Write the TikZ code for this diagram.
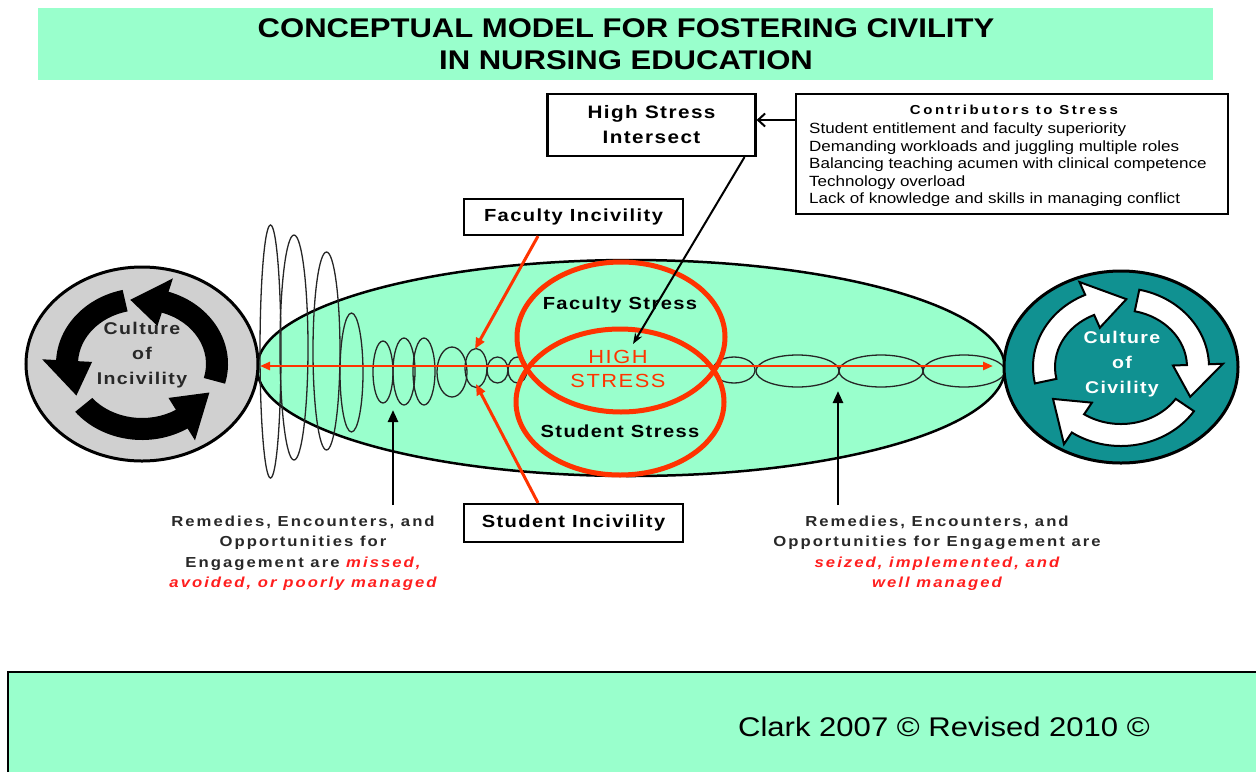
\documentclass[tikz,border=0pt]{standalone}
\usepackage{fontspec}
\setmainfont[FakeStretch=1.15]{Liberation Sans}
\newfontfamily\trk[FakeStretch=1.15,LetterSpace=8]{Liberation Sans}
\newfontfamily\trkw[FakeStretch=1.15,LetterSpace=14]{Liberation Sans}
\newfontfamily\trkh[FakeStretch=1.15,LetterSpace=20]{Liberation Sans}
\usetikzlibrary{arrows.meta,calc}

\definecolor{mint}{RGB}{153,255,204}
\definecolor{hot}{RGB}{255,51,0}
\definecolor{tealring}{RGB}{16,145,145}
\definecolor{ink}{RGB}{40,40,40}
\definecolor{capred}{RGB}{255,30,30}
\definecolor{ringgray}{RGB}{208,208,208}

\newcommand\fsz[2]{\fontsize{#1}{#2}\selectfont}

% Curved band arrow on an elliptical ring:
% #1 style, (#2,#3) centre, #4/#5 mid radii,
% #6 tail angle, #7 angle of the head base, #8 angle of the tip
\newcommand\ringarrow[8]{%
  \pgfmathsetmacro\rgxi{#4-11}\pgfmathsetmacro\rgyi{#5-11}%
  \pgfmathsetmacro\rgxo{#4+11}\pgfmathsetmacro\rgyo{#5+11}%
  \pgfmathsetmacro\rgxh{#4-25}\pgfmathsetmacro\rgyh{#5-25}%
  \pgfmathsetmacro\rgxk{#4+25}\pgfmathsetmacro\rgyk{#5+25}%
  \path[#1,shift={(#2,#3)}]
    (#6:{\rgxi} and {\rgyi})
    arc[start angle=#6, end angle=#7, x radius=\rgxi, y radius=\rgyi]
    -- (#7:{\rgxh} and {\rgyh})
    -- (#8:{#4} and {#5})
    -- (#7:{\rgxk} and {\rgyk})
    -- (#7:{\rgxo} and {\rgyo})
    arc[start angle=#7, end angle=#6, x radius=\rgxo, y radius=\rgyo]
    -- cycle;}

\tikzset{
  lbl/.style={draw=black, line width=2.2pt, fill=white, inner sep=0pt},
  chain/.style={draw=black!85, line width=1.3pt},
  stresscircle/.style={draw=hot, line width=5pt},
  redarrow/.style={draw=hot, line width=3pt, -{Triangle[length=11pt,width=9pt]}},
  blackarrow/.style={draw=black, line width=2.5pt, -{Triangle[length=12pt,width=10pt]}},
}

\begin{document}
\begin{tikzpicture}[x=1pt,y=-1pt]
\useasboundingbox (0,0) rectangle (1256,772);

% title band
\fill[mint] (38,8) rectangle (1213,80);
\node[font=\bfseries\fsz{27}{32}, align=center] (title) at (626,44)
  {CONCEPTUAL MODEL FOR FOSTERING CIVILITY\\IN NURSING EDUCATION};

% footer band
\fill[mint] (8,672) rectangle (1256,772);
\draw[line width=2pt] (8,772) -- (8,672) -- (1256,672);
\node[font=\fsz{27}{30}] (credit) at (944,727) {Clark 2007 © Revised 2010 ©};

% central field
\draw[fill=mint, line width=2.5pt] (631,368) ellipse[x radius=374, y radius=108];

% chain of rings, loose on the left, tight on the right
\foreach \cx/\cy/\rx/\ry in {
  517.5/370/9.5/13, 497.5/370/10.5/13, 476/368/11/19.5, 452/372/15/25,
  424/371.5/11/33.5, 404/371.5/11/33.5, 383/372/10/31, 351.5/372.5/11.5/59.5,
  326.5/351/13.5/99, 294/347.5/14/112.5, 270.5/351.5/10.5/126.5,
  734/370/21/13, 797.5/371/41.5/16, 881/371/42/16, 964/371/41/16}
  \draw[chain] (\cx,\cy) ellipse[x radius=\rx, y radius=\ry];

% axis
\coordinate (axL) at (260,366);
\coordinate (axR) at (993,366);
\draw[hot, line width=2.5pt, {Triangle[length=10pt,width=8pt]}-{Triangle[length=10pt,width=8pt]}] (axL) -- (axR);

% overlapping stress circles
\draw[stresscircle] (621,337) ellipse[x radius=104, y radius=75];
\draw[stresscircle] (620,402) ellipse[x radius=104, y radius=73];
\node[font=\trk\bfseries\fsz{17.5}{20}] (fs) at (620,305) {Faculty Stress};
\node[font=\trk\bfseries\fsz{17.5}{20}] (ss) at (620,431) {Student Stress};
\node[text=hot, align=center, font=\trk\fsz{19}{24}] (hs) at (618,369) {HIGH\\STRESS};

% culture of incivility
\draw[fill=ringgray, line width=3pt] (142,364) ellipse[x radius=116, y radius=97];
\ringarrow{fill=black}{142}{364}{75}{65}{15}{-72}{-99}
\ringarrow{fill=black}{142}{364}{75}{65}{257}{183}{151}
\ringarrow{fill=black}{142}{364}{75}{65}{141}{58}{26}
\node[align=center, text=ink, font=\trk\bfseries\fsz{17}{25}] (incv) at (142,355) {Culture\\of\\Incivility};

% culture of civility
\draw[fill=tealring, line width=3pt] (1121,367) ellipse[x radius=117, y radius=96];
\ringarrow{fill=white,draw=black,line width=2pt}{1121}{367}{77}{68}{168}{246}{274}
\ringarrow{fill=white,draw=black,line width=2pt}{1121}{367}{77}{68}{282}{358}{386}
\ringarrow{fill=white,draw=black,line width=2pt}{1121}{367}{77}{68}{34}{124}{152}
\node[align=center, text=white, font=\trk\bfseries\fsz{17}{25}] (civ) at (1122,364) {Culture\\of\\Civility};

% labelled boxes
\node[lbl, minimum width=208pt, minimum height=62pt, align=center, font=\trk\bfseries\fsz{18}{25}] (hsi) at (651.5,125) {High Stress\\Intersect};
\node[lbl, minimum width=432pt, minimum height=120pt] (contrib) at (1012,154) {};
\node[font=\trkh\bfseries\fsz{13}{16}] (chead) at (1014,110) {Contributors to Stress};
\node[anchor=north west, align=left, inner sep=0pt, font=\fsz{14.8}{17.5}] (citems) at (809,123)
  {Student entitlement and faculty superiority\\
   Demanding workloads and juggling multiple roles\\
   Balancing teaching acumen with clinical competence\\
   Technology overload\\
   Lack of knowledge and skills in managing conflict};
\node[lbl, minimum width=219pt, minimum height=36pt, font=\trk\bfseries\fsz{17.5}{20}] (fac) at (573.5,217) {Faculty Incivility};
\node[lbl, minimum width=219pt, minimum height=38pt, font=\trk\bfseries\fsz{17.5}{20}] (stu) at (573.5,523) {Student Incivility};

% connectors
\coordinate (hsiE) at ([yshift=5pt]hsi.east);
\draw[line width=2pt, -{Straight Barb[length=7pt,width=13pt]}] (hsiE -| contrib.west) -- (hsiE);
\coordinate (hsTip) at (633,344);
\draw[line width=2pt, -{Stealth[length=11pt,width=8pt]}] ([xshift=93pt]hsi.south) -- (hsTip);
\coordinate (facTip) at (475,349);
\coordinate (stuTip) at (476,384);
\draw[redarrow] ([xshift=-35.5pt]fac.south) -- (facTip);
\draw[redarrow] ([xshift=-35.5pt]stu.north) -- (stuTip);

% captions
\node[align=center, text=ink, font=\trkw\bfseries\fsz{14.5}{20.5}] (capL) at (303,553)
  {Remedies, Encounters, and\\Opportunities for\\Engagement are \textcolor{capred}{\itshape missed,}\\\textcolor{capred}{\itshape avoided, or poorly managed}};
\node[align=center, text=ink, font=\trkw\bfseries\fsz{14.5}{20.5}] (capR) at (937,553)
  {Remedies, Encounters, and\\Opportunities for Engagement are\\\textcolor{capred}{\itshape seized, implemented, and}\\\textcolor{capred}{\itshape well managed}};
\coordinate (vL) at (393,505);
\coordinate (vLtip) at (393,410);
\coordinate (vR) at (838,505);
\coordinate (vRtip) at (838,391);
\draw[blackarrow] (vL) -- (vLtip);
\draw[blackarrow] (vR) -- (vRtip);
\end{tikzpicture}
\end{document}
